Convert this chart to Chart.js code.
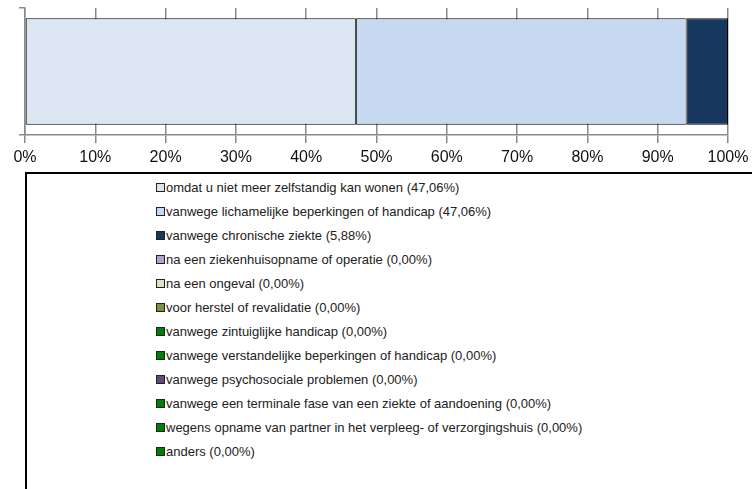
<!DOCTYPE html>
<html>
<head>
<meta charset="utf-8">
<script src="https://cdn.jsdelivr.net/npm/chart.js@4/dist/chart.umd.min.js"></script>
<style>
  html, body { margin: 0; padding: 0; background: #fff; overflow: hidden; }
  body { width: 752px; height: 489px; position: relative; font-family: "Liberation Sans", Arial, sans-serif; }
  #wrap { position: absolute; left: 0; top: 0; width: 752px; height: 172px; }
  #legend { position: absolute; left: 25px; top: 172px; width: 800px; height: 330px;
            border-top: 2px solid #000; border-left: 2px solid #000; box-sizing: border-box; }
  .item { position: absolute; left: 129px; height: 16px; line-height: 16px; font-size: 13px; color: #222; white-space: nowrap; }
  .sw { display: inline-block; width: 7px; height: 7px; border: 1px solid #222; margin-right: 1px; vertical-align: 0px; }
</style>
</head>
<body>
<div id="wrap"><canvas id="c" width="752" height="172"></canvas></div>
<div id="legend"></div>
<script>
const categories = [""];
const seriesNames = [
  "omdat u niet meer zelfstandig kan wonen",
  "vanwege lichamelijke beperkingen of handicap",
  "vanwege chronische ziekte",
  "na een ziekenhuisopname of operatie",
  "na een ongeval",
  "voor herstel of revalidatie",
  "vanwege zintuiglijke handicap",
  "vanwege verstandelijke beperkingen of handicap",
  "vanwege psychosociale problemen",
  "vanwege een terminale fase van een ziekte of aandoening",
  "wegens opname van partner in het verpleeg- of verzorgingshuis",
  "anders"
];
const seriesValues = [47.06, 47.06, 5.88, 0, 0, 0, 0, 0, 0, 0, 0, 0];
const seriesColors = ["#DCE6F2", "#C6D9F1", "#17375E", "#B3A2C7", "#D7E4BD", "#77933C",
                      "#008000", "#008000", "#604A7B", "#008000", "#008000", "#008000"];
const tickLabels = ["0%", "10%", "20%", "30%", "40%", "50%", "60%", "70%", "80%", "90%", "100%"];

const fmt = v => v.toFixed(2).replace('.', ',');

const datasets = seriesNames.map((n, i) => ({
  label: n + " (" + fmt(seriesValues[i]) + "%)",
  data: [seriesValues[i]],
  backgroundColor: seriesColors[i],
  borderColor: "#000",
  borderWidth: 1,
  borderSkipped: false,
  barPercentage: 0.84,
  categoryPercentage: 1
}));

new Chart(document.getElementById('c'), {
  type: 'bar',
  data: { labels: categories, datasets },
  options: {
    indexAxis: 'y',
    responsive: false,
    animation: false,
    layout: { padding: { top: 8, right: 24, left: 0, bottom: 0 } },
    plugins: { legend: { display: false }, tooltip: { enabled: false } },
    scales: {
      x: {
        stacked: true, min: 0, max: 100,
        afterBuildTicks: s => { s.ticks = tickLabels.map((t, i) => ({ value: i * 10 })); },
        afterFit: s => { s.height = 37; s.paddingRight = 0; s.paddingLeft = 0; },
        ticks: { callback: (v, i) => tickLabels[i], font: { family: "Liberation Sans", size: 16 }, color: "#111", padding: 5, maxRotation: 0 },
        grid: { color: "#8a8a8a", lineWidth: 1.5, tickLength: 8 },
        border: { color: "#8a8a8a", width: 1.5 }
      },
      y: {
        stacked: true,
        afterFit: s => { s.width = 25; },
        ticks: { display: false },
        grid: { drawOnChartArea: false, color: "#8a8a8a", lineWidth: 1.5, tickLength: 6 },
        border: { color: "#8a8a8a", width: 1.5 }
      }
    }
  }
});

const legend = document.getElementById('legend');
datasets.forEach((d, i) => {
  const el = document.createElement('div');
  el.className = 'item';
  el.style.top = (6 + i * 24) + 'px';
  const sw = document.createElement('span');
  sw.className = 'sw';
  sw.style.background = d.backgroundColor;
  el.appendChild(sw);
  el.appendChild(document.createTextNode(d.label));
  legend.appendChild(el);
});
</script>
</body>
</html>
